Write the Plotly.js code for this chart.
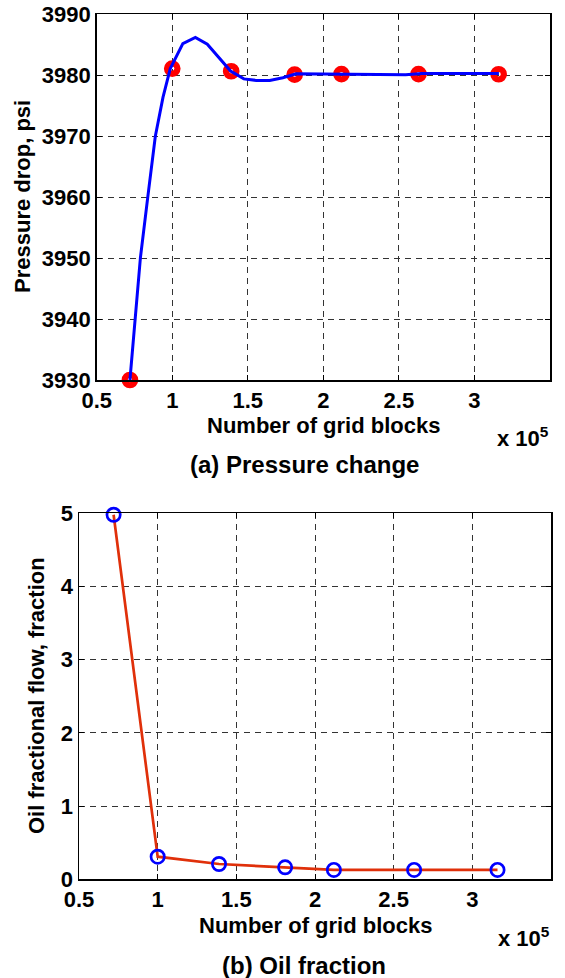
<!DOCTYPE html>
<html>
<head>
<meta charset="utf-8">
<script src="https://cdn.plot.ly/plotly-3.0.1.min.js"></script>
<style>
  html, body { margin: 0; padding: 0; background: #fff; }
  #chart { width: 565px; height: 978px; }
</style>
</head>
<body>
<div id="chart"></div>
<script>
// Number of grid blocks, in units of 10^5
const gridBlocks = [0.72, 1.00, 1.39, 1.81, 2.12, 2.63, 3.16];

// (a) Pressure drop at each grid size, psi
const pressureDrop = [3930, 3981.1, 3980.66, 3980.1, 3980.2, 3980.2, 3980.16];

// (a) Continuous pressure-drop response curve
const curveBlocks = [0.72, 0.768, 0.789, 0.838, 0.888, 0.939, 0.987, 1.07, 1.153, 1.232,
                     1.311, 1.386, 1.474, 1.557, 1.645, 1.732, 1.82, 2.215, 2.544, 2.653, 3.162];
const curvePressure = [3930, 3943, 3950, 3960, 3970, 3976.4, 3981.1, 3985.2, 3986.2, 3985.1,
                       3982.8, 3980.7, 3979.4, 3979.15, 3979.15, 3979.6, 3980.25, 3980.2, 3980.1, 3980.3, 3980.3];

// (b) Oil fractional flow at each grid size
const oilFraction = [4.98, 0.31, 0.21, 0.165, 0.13, 0.13, 0.13];

// Axis ticks
const xTicks = [0.5, 1, 1.5, 2, 2.5, 3, 3.5];
const xTickText = ['0.5', '1', '1.5', '2', '2.5', '3', '3.5'];
const pTicks = [3930, 3940, 3950, 3960, 3970, 3980, 3990];
const fTicks = [0, 1, 2, 3, 4, 5];

const W = 565, H = 978;
const FONT = 'Liberation Sans, Arial, Helvetica, sans-serif';
const px = v => v / W;
const py = v => 1 - v / H;

const traces = [
  {
    x: gridBlocks, y: pressureDrop, xaxis: 'x', yaxis: 'y',
    mode: 'markers', type: 'scatter', cliponaxis: false,
    marker: { symbol: 'circle-open', size: 10.5, color: '#ff0000', line: { color: '#ff0000', width: 6.2 } },
    hoverinfo: 'x+y'
  },
  {
    x: curveBlocks, y: curvePressure, xaxis: 'x', yaxis: 'y',
    mode: 'lines', type: 'scatter', cliponaxis: false,
    line: { color: '#0000ff', width: 3 },
    hoverinfo: 'x+y'
  },
  {
    x: gridBlocks, y: oilFraction, xaxis: 'x2', yaxis: 'y2',
    mode: 'lines', type: 'scatter', cliponaxis: false,
    line: { color: '#e0300a', width: 2.7 },
    hoverinfo: 'x+y'
  },
  {
    x: gridBlocks, y: oilFraction, xaxis: 'x2', yaxis: 'y2',
    mode: 'markers', type: 'scatter', cliponaxis: false,
    marker: { symbol: 'circle-open', size: 13.3, color: '#0000ff', line: { color: '#0000ff', width: 2.7 } },
    hoverinfo: 'x+y'
  }
];

const tickFont = { family: FONT, size: 22, color: '#000', weight: 'bold' };

function axis(extra) {
  return Object.assign({
    showline: true, linecolor: '#000', linewidth: 1.5, mirror: 'ticks',
    ticks: 'inside', ticklen: 5, tickwidth: 1, tickcolor: '#000',
    showgrid: true, gridcolor: '#333', gridwidth: 1, griddash: '6px,5px',
    zeroline: false, tickfont: tickFont, fixedrange: true
  }, extra);
}

const titleFont = { family: FONT, size: 22, color: '#000', weight: 'bold' };
const capFont = { family: FONT, size: 24, color: '#000', weight: 'bold' };

// Text placed by pixel centre on the page
function label(text, cx, cy, font, extra) {
  return Object.assign({
    text: text, x: px(cx), y: py(cy), xref: 'paper', yref: 'paper',
    xanchor: 'center', yanchor: 'middle', showarrow: false, font: font
  }, extra || {});
}

const layout = {
  width: W, height: H,
  margin: { l: 0, r: 0, t: 0, b: 0 },
  paper_bgcolor: '#fff', plot_bgcolor: '#fff',
  showlegend: false,
  xaxis: axis({ domain: [px(96.7), px(550)], range: [0.5, 3.5], anchor: 'y',
                tickvals: xTicks, ticktext: xTickText }),
  yaxis: axis({ domain: [py(380), py(14.3)], range: [3930, 3990], anchor: 'x',
                tickvals: pTicks }),
  xaxis2: axis({ domain: [px(79), px(551)], range: [0.5, 3.5], anchor: 'y2',
                 tickvals: xTicks, ticktext: xTickText }),
  yaxis2: axis({ domain: [py(879.4), py(513.3)], range: [0, 5], anchor: 'x2',
                 tickvals: fTicks }),
  annotations: [
    label('Pressure drop, psi', 22, 197, titleFont, { textangle: -90 }),
    label('Number of grid blocks', 323, 425.5, titleFont),
    label('x 10<sup>5</sup>', 551, 437, titleFont, { xanchor: 'right' }),
    label('(a) Pressure change', 304, 465, capFont),

    label('Oil fractional flow, fraction', 36, 696, titleFont, { textangle: -90 }),
    label('Number of grid blocks', 315, 925, titleFont),
    label('x 10<sup>5</sup>', 552, 937, titleFont, { xanchor: 'right' }),
    label('(b) Oil fraction', 304, 965, capFont)
  ]
};

Plotly.newPlot('chart', traces, layout, { displayModeBar: false, staticPlot: true });
</script>
</body>
</html>
